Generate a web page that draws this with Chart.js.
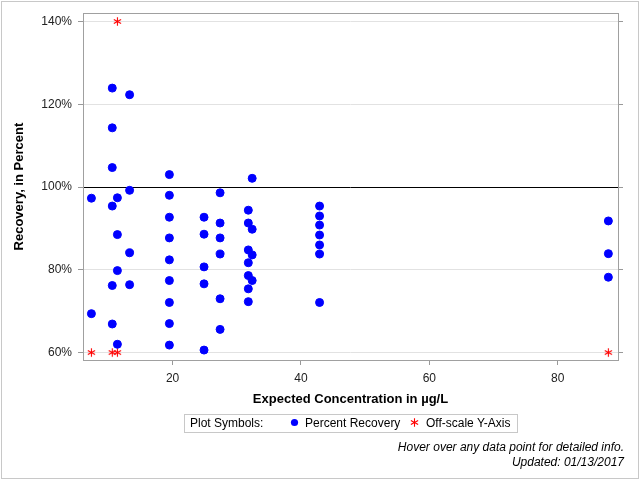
<html>
<head>
<meta charset="utf-8"/>
<title>Percent Recovery</title>
<script src="https://cdn.jsdelivr.net/npm/chart.js"></script>
<style>
  body { margin: 0; font-family: "Liberation Sans", Arial, sans-serif; }
  #frame { position: absolute; left: 1px; top: 1px; width: 638px; height: 478px; box-sizing: border-box; border: 1px solid #c8c8c8; }
  #chart { position: absolute; left: 0; top: 0; }
  .legend { position: absolute; left: 184px; top: 414px; width: 334px; height: 19px; box-sizing: border-box; border: 1px solid #c8c8c8; font-size: 12px; color: #000; }
  .legend span { position: absolute; top: 1px; white-space: nowrap; }
  .legend canvas { position: absolute; top: 3px; }
  .note { position: absolute; right: 16px; font-size: 12px; font-style: italic; white-space: nowrap; color: #000; }
</style>
</head>
<body>
<div id="frame"></div>
<canvas id="chart" width="640" height="480"></canvas>
<div class="legend">
  <span style="left:5px">Plot Symbols:</span>
  <canvas id="symDot" width="9" height="9" style="left:105px"></canvas>
  <span style="left:120px">Percent Recovery</span>
  <canvas id="symStar" width="11" height="11" style="left:224px;top:2px"></canvas>
  <span style="left:241px">Off-scale Y-Axis</span>
</div>
<div class="note" style="top:440px">Hover over any data point for detailed info.</div>
<div class="note" style="top:455px">Updated: 01/13/2017</div>

<script>
// expected concentration (ug/L) for each group of samples
const concentrations = [7.35, 10.6, 11.4, 13.3, 19.5, 24.9, 27.4, 31.8, 32.4, 42.9, 87.9];
// percent recovery values at each concentration
const recoveries = [
  [97.3, 69.4],
  [123.9, 114.3, 104.7, 95.4, 76.2, 66.9],
  [97.4, 88.5, 79.8, 62.0],
  [122.3, 99.2, 84.1, 76.4],
  [103.0, 98.0, 92.7, 87.7, 82.4, 77.4, 72.1, 67.0, 61.8],
  [92.7, 88.6, 80.7, 76.6, 60.6],
  [98.6, 91.3, 87.7, 83.8, 73.0, 65.6],
  [94.4, 91.3, 84.8, 81.7, 78.6, 75.4, 72.3],
  [102.1, 89.8, 83.6, 77.4],
  [95.4, 93.0, 90.8, 88.4, 86.0, 83.8, 72.1],
  [91.8, 83.9, 78.2]
];
// points that fall off the y-axis, pinned at the axis limits
const offscaleConc = [7.35, 10.6, 11.4, 87.9, 11.4];
const offscalePct = [60, 60, 60, 60, 140];

const xTicks = [20, 40, 60, 80];
const yTicks = [60, 80, 100, 120, 140];

function drawAsterisk(ctx, cx, cy, r) {
  ctx.strokeStyle = '#ff0000';
  ctx.lineWidth = 1.1;
  ctx.beginPath();
  [90, 30, 150].forEach(a => {
    const t = a * Math.PI / 180;
    ctx.moveTo(cx - r * Math.cos(t), cy - r * Math.sin(t));
    ctx.lineTo(cx + r * Math.cos(t), cy + r * Math.sin(t));
  });
  ctx.stroke();
}

const starImg = document.createElement('canvas');
starImg.width = 11; starImg.height = 11;
drawAsterisk(starImg.getContext('2d'), 5.5, 5.5, 4.2);

drawAsterisk(document.getElementById('symStar').getContext('2d'), 5.5, 5.5, 4.2);
const dctx = document.getElementById('symDot').getContext('2d');
dctx.fillStyle = '#0000ff';
dctx.beginPath(); dctx.arc(4.5, 4.5, 3.6, 0, Math.PI * 2); dctx.fill();

const recoveryPts = [];
concentrations.forEach((c, i) => {
  recoveries[i].forEach(v => recoveryPts.push({x: c, y: v}));
});
const offscalePts = offscaleConc.map((c, i) => ({x: c, y: offscalePct[i]}));

const frameBox = {
  id: 'frameBox',
  beforeDatasetsDraw(chart) {
    const a = chart.chartArea, ctx = chart.ctx;
    ctx.save();
    ctx.strokeStyle = '#a0a0a0';
    ctx.lineWidth = 1;
    ctx.strokeRect(Math.round(a.left) + 0.5, Math.round(a.top) + 0.5,
      Math.round(a.right - a.left), Math.round(a.bottom - a.top));
    ctx.restore();
  }
};

const tickFont = {family: '"Liberation Sans", Arial, sans-serif', size: 12};
const titleFont = {family: '"Liberation Sans", Arial, sans-serif', size: 13, weight: 'bold'};

new Chart(document.getElementById('chart').getContext('2d'), {
  type: 'scatter',
  data: {
    datasets: [
      {
        label: 'Percent Recovery',
        data: recoveryPts,
        pointStyle: 'circle',
        pointRadius: 4,
        borderWidth: 1,
        backgroundColor: '#0000ff',
        borderColor: '#0000ff',
        clip: false
      },
      {
        label: 'Off-scale Y-Axis',
        data: offscalePts,
        pointStyle: starImg,
        pointRadius: 5,
        clip: false
      }
    ]
  },
  options: {
    responsive: false,
    animation: false,
    devicePixelRatio: 1,
    layout: { padding: { left: 0, top: 11, right: 0, bottom: 73 } },
    plugins: { legend: { display: false }, tooltip: { enabled: false } },
    scales: {
      x: {
        type: 'linear',
        position: 'bottom',
        min: 6.04,
        max: 89.4,
        afterBuildTicks: s => { s.ticks = xTicks.map(v => ({value: v})); },
        afterFit: s => { s.height = 47; },
        border: { display: false },
        grid: { drawOnChartArea: false, drawTicks: true, tickLength: 5, tickColor: '#999' },
        ticks: { font: tickFont, color: '#222', padding: 6, maxRotation: 0 },
        title: { display: true, text: 'Expected Concentration in µg/L', font: titleFont, color: '#000', padding: 0 }
      },
      y: {
        type: 'linear',
        position: 'left',
        min: 58.2,
        max: 142,
        afterBuildTicks: s => { s.ticks = yTicks.map(v => ({value: v})); },
        afterFit: s => { s.width = 83; },
        border: { display: false },
        grid: {
          color: ctx => (ctx.tick && ctx.tick.value === 100) ? '#000' : '#e2e2e2',
          tickColor: '#999',
          tickLength: 5,
          drawTicks: true
        },
        ticks: { font: tickFont, color: '#222', padding: 6, callback: v => v + '%' },
        title: { display: true, text: 'Recovery, in Percent', font: titleFont, color: '#000', padding: { top: 12, bottom: 0 } }
      },
      y2: {
        type: 'linear',
        position: 'right',
        min: 58.2,
        max: 142,
        afterBuildTicks: s => { s.ticks = yTicks.map(v => ({value: v})); },
        afterFit: s => { s.width = 22; },
        border: { display: false },
        grid: { drawOnChartArea: false, drawTicks: true, tickLength: 5, tickColor: '#999' },
        ticks: { display: false }
      }
    }
  },
  plugins: [frameBox]
});
</script>
</body>
</html>
